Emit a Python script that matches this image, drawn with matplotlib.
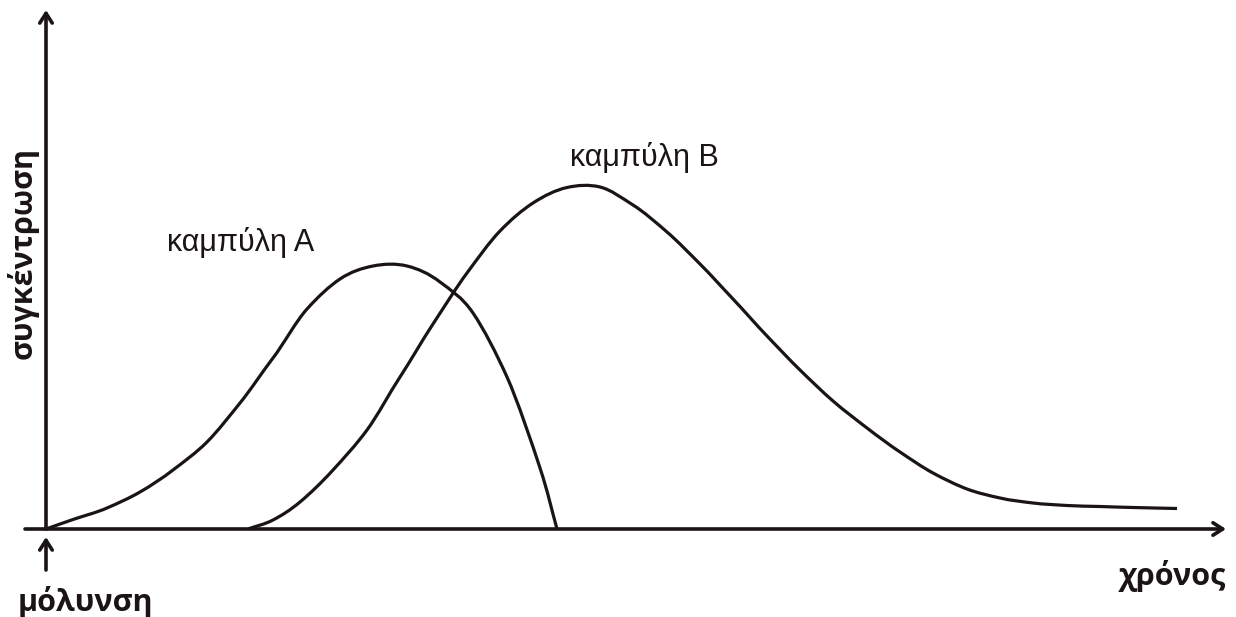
import matplotlib
matplotlib.use("Agg")
import matplotlib.pyplot as plt
import numpy as np
from matplotlib.path import Path
from matplotlib.patches import PathPatch

# time (arbitrary units) and concentration (arbitrary units)
t_A = [0, 0.54, 1.22, 1.88, 2.54, 3.22, 3.88, 4.54, 5.22, 5.88, 6.54, 7.22,
       7.88, 8.54, 9.22, 9.88, 10.22]
c_A = [0, 0.95, 2.1, 3.7, 5.9, 8.7, 12.6, 17.1, 22.0, 25.0, 26.3, 26.3,
       24.7, 21.6, 15.2, 6.1, 0]

t_B = [4.04, 4.54, 5.08, 5.74, 6.42, 7.08, 7.74, 8.42, 9.08, 9.74, 10.42, 11.08,
       11.74, 12.42, 13.08, 13.74, 14.42, 15.08, 15.74, 16.42, 17.08, 17.74,
       18.42, 19.08, 19.74, 20.42, 21.08, 21.74, 22.62]
c_B = [0, 0.9, 2.7, 5.9, 9.9, 15.2, 20.5, 25.6, 29.8, 32.6, 34.15, 34.2,
       32.4, 29.7, 26.5, 23.0, 19.3, 15.9, 12.8, 10.1, 7.7, 5.6,
       4.0, 3.1, 2.6, 2.35, 2.25, 2.15, 2.05]

label_A = "καμπύλη Α"
label_B = "καμπύλη Β"
x_label = "χρόνος"
y_label = "συγκέντρωση"
start_label = "μόλυνση"


def smooth_path(xs, ys):
    """Hermite curve through the read points (tangents from a wide stencil),
    rendered by matplotlib as cubic Bezier segments."""
    p = np.column_stack([xs, ys]).astype(float)
    n = len(p)
    m = np.zeros_like(p)
    for i in range(n):
        a = p[min(i + 1, n - 1)] - p[max(i - 1, 0)]
        span1 = min(i + 1, n - 1) - max(i - 1, 0)
        m1 = a / span1
        if 2 <= i <= n - 3:
            m2 = (p[i + 2] - p[i - 2]) / 4.0
            m[i] = 0.5 * m1 + 0.5 * m2
        else:
            m[i] = m1
    verts = [p[0]]
    codes = [Path.MOVETO]
    for i in range(n - 1):
        verts += [p[i] + m[i] / 3.0, p[i + 1] - m[i + 1] / 3.0, p[i + 1]]
        codes += [Path.CURVE4] * 3
    return Path(verts, codes)


fig = plt.figure(figsize=(12.36, 6.17), dpi=100)
ax = fig.add_axes([0, 0, 1, 1])
ax.set_xlim(-0.92, 23.8)
ax.set_ylim(-8.8, 52.9)
ax.axis("off")

col = "#1a1414"
arrow_kw = dict(arrowstyle="->,head_length=0.7,head_width=0.45", color=col, lw=2.6,
                shrinkA=0, shrinkB=0)
# axes
ax.annotate("", xy=(23.6, 0), xytext=(-0.42, 0), arrowprops=arrow_kw)
ax.annotate("", xy=(0, 51.9), xytext=(0, 0), arrowprops=arrow_kw)
# pollution marker arrow
ax.annotate("", xy=(0, -0.8), xytext=(0, -4.1), arrowprops=arrow_kw)

for xs, ys in [(t_A, c_A), (t_B, c_B)]:
    ax.add_patch(PathPatch(smooth_path(xs, ys), facecolor="none", edgecolor=col,
                           lw=2.3, capstyle="butt", joinstyle="round"))

reg = dict(family=["Liberation Sans", "DejaVu Sans"], fontsize=22, color=col)
bold = dict(family=["Open Sans", "DejaVu Sans"], fontsize=22, fontweight="bold", color=col)

ax.text(2.42, 27.8, label_A, ha="left", va="baseline", **reg)
ax.text(10.48, 36.3, label_B, ha="left", va="baseline", **reg)
ax.text(23.6, -5.6, x_label, ha="right", va="baseline", **bold)
ax.text(-0.56, -8.2, start_label, ha="left", va="baseline", **bold)
ax.text(-0.46, 27.6, y_label, ha="center", va="center", rotation=90, **bold)

fig.savefig("out.png", dpi=100)
